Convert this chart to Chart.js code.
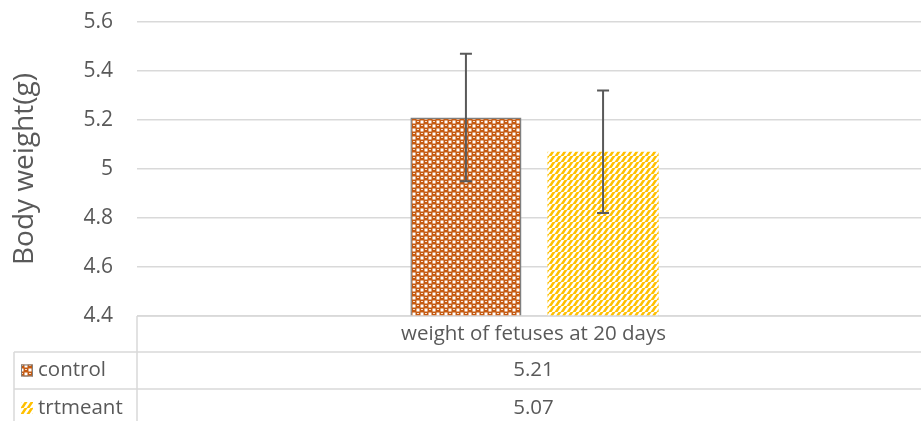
<!DOCTYPE html>
<html>
<head>
<meta charset="utf-8">
<script src="https://cdn.jsdelivr.net/npm/chart.js@4"></script>
<style>
  html, body { margin: 0; padding: 0; background: #fff; }
  #wrap { width: 921px; height: 421px; }
</style>
</head>
<body>
<div id="wrap"><canvas id="bw"></canvas></div>
<script>
// data
var categories = ["weight of fetuses at 20 days"];
var seriesNames = ["control", "trtmeant"];
var controlValues = [5.21];
var trtValues = [5.07];
var controlErr = [0.26];
var trtErr = [0.25];
var yTicks = ["4.4", "4.6", "4.8", "5", "5.2", "5.4", "5.6"];

var FONT = "'Open Sans', 'Liberation Sans', sans-serif";
var TXT = "#595959";
var LINE = "#d9d9d9";

function checkerPattern() {
  var c = document.createElement("canvas");
  c.width = 8; c.height = 8;
  var g = c.getContext("2d");
  g.fillStyle = "#fff"; g.fillRect(0, 0, 8, 8);
  g.fillStyle = "#c55a11";
  // rounded brown blobs on a diagonal checker, white gaps between
  [[2, 2], [6, 6], [6, -2], [-2, 6], [10, 2], [2, 10], [-2, -2], [10, 10]].forEach(function (p) {
    g.fillRect(p[0] - 2.5, p[1] - 2, 5, 4);
    g.fillRect(p[0] - 2, p[1] - 2.5, 4, 5);
  });
  g.fillStyle = "#f5dccb";
  g.fillRect(1, 1, 2, 1);
  g.fillRect(5, 5, 2, 1);
  return g.createPattern(c, "repeat");
}

function stripePattern() {
  var c = document.createElement("canvas");
  c.width = 6; c.height = 6;
  var g = c.getContext("2d");
  g.fillStyle = "#fff"; g.fillRect(0, 0, 6, 6);
  g.strokeStyle = "#ffc000";
  g.lineWidth = 2.6;
  for (var k = -6; k <= 12; k += 6) {
    g.beginPath(); g.moveTo(k - 6, 6 + 6); g.lineTo(k + 6, -6); g.stroke();
  }
  return g.createPattern(c, "repeat");
}

var pats = [checkerPattern(), stripePattern()];
var errs = [controlErr, trtErr];

// the plot area in the source runs a little past the right edge of the picture
var widenX = {
  id: "widenX",
  afterLayout: function (chart) {
    var x = chart.scales.x;
    x.right += 11;
    x.width += 11;
    x.configure();
  }
};

var errorBars = {
  id: "errorBars",
  afterDatasetsDraw: function (chart) {
    var ctx = chart.ctx, y = chart.scales.y;
    ctx.save();
    ctx.strokeStyle = TXT;
    ctx.lineWidth = 2;
    chart.data.datasets.forEach(function (ds, di) {
      chart.getDatasetMeta(di).data.forEach(function (bar, i) {
        var v = ds.data[i], e = errs[di][i];
        var top = y.getPixelForValue(v + e), bot = y.getPixelForValue(v - e);
        ctx.beginPath();
        ctx.moveTo(bar.x, top); ctx.lineTo(bar.x, bot);
        ctx.moveTo(bar.x - 6, top); ctx.lineTo(bar.x + 6, top);
        ctx.moveTo(bar.x - 6, bot); ctx.lineTo(bar.x + 6, bot);
        ctx.stroke();
      });
    });
    ctx.restore();
  }
};

var dataTable = {
  id: "dataTable",
  afterDraw: function (chart) {
    var ctx = chart.ctx, a = chart.chartArea;
    var W = chart.width, H = chart.height;
    var r1 = a.bottom, r2 = a.bottom + 36, r3 = a.bottom + 73;
    var keyLeft = 14;
    ctx.save();
    ctx.strokeStyle = LINE;
    ctx.lineWidth = 1.5;
    ctx.beginPath();
    ctx.moveTo(a.left, r1); ctx.lineTo(W, r1);
    ctx.moveTo(keyLeft, r2); ctx.lineTo(W, r2);
    ctx.moveTo(keyLeft, r3); ctx.lineTo(W, r3);
    ctx.moveTo(a.left, r1); ctx.lineTo(a.left, H);
    ctx.moveTo(keyLeft, r2); ctx.lineTo(keyLeft, H);
    ctx.stroke();

    ctx.fillStyle = TXT;
    ctx.font = "20.5px " + FONT;
    ctx.textAlign = "center";
    ctx.textBaseline = "middle";
    var cx = chart.scales.x.getPixelForValue(0) - 1;
    ctx.fillText(categories[0], cx, (r1 + r2) / 2);
    var vals = [controlValues, trtValues];
    var rows = [(r2 + r3) / 2, (r3 + H) / 2 + 3];
    vals.forEach(function (arr, di) {
      ctx.textAlign = "center";
      ctx.fillText(arr[0].toFixed(2), cx, rows[di]);
      ctx.fillStyle = pats[di];
      ctx.fillRect(keyLeft + 7, rows[di] - 6, 12, 12);
      if (di === 0) {
        ctx.strokeStyle = "#7f7f7f"; ctx.lineWidth = 1;
        ctx.strokeRect(keyLeft + 7.5, rows[di] - 5.5, 11, 11);
      }
      ctx.fillStyle = TXT;
      ctx.textAlign = "left";
      ctx.fillText(seriesNames[di], keyLeft + 24, rows[di]);
    });
    ctx.restore();
  }
};

new Chart(document.getElementById("bw"), {
  type: "bar",
  data: {
    labels: categories,
    datasets: [{
      label: seriesNames[0],
      data: controlValues,
      backgroundColor: pats[0],
      borderColor: "#7f7f7f",
      borderWidth: 1.5
    }, {
      label: seriesNames[1],
      data: trtValues,
      backgroundColor: pats[1],
      borderWidth: 0
    }]
  },
  options: {
    responsive: true,
    maintainAspectRatio: false,
    animation: false,
    categoryPercentage: 0.345,
    barPercentage: 0.81,
    layout: { padding: { left: 0, right: 0, top: 22, bottom: 105 } },
    plugins: { legend: { display: false }, tooltip: { enabled: false } },
    scales: {
      x: { display: false },
      y: {
        min: 4.4, max: 5.6,
        afterFit: function (s) { s.width = 137; s.paddingTop = 0; s.paddingBottom = 0; },
        border: { display: false },
        grid: { color: LINE, lineWidth: 1.5, drawTicks: false },
        ticks: {
          stepSize: 0.2,
          padding: 24,
          color: TXT,
          font: { family: FONT, size: 21 },
          callback: function (v, i) { return yTicks[i]; }
        },
        title: {
          display: true,
          text: "Body weight(g)",
          color: TXT,
          font: { family: FONT, size: 28 },
          padding: { top: 8, bottom: 0 }
        }
      }
    }
  },
  plugins: [widenX, errorBars, dataTable]
});
</script>
</body>
</html>
